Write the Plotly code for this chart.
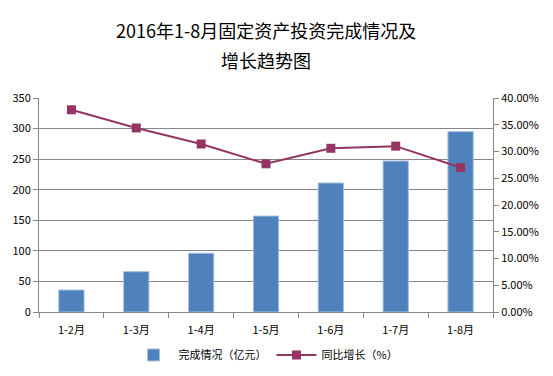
import plotly.graph_objects as go

categories = ["1-2月", "1-3月", "1-4月", "1-5月", "1-6月", "1-7月", "1-8月"]
investment = [36, 66, 96, 157, 211, 247, 295]
growth = [0.378, 0.344, 0.314, 0.277, 0.306, 0.310, 0.270]
y1_ticks = [0, 50, 100, 150, 200, 250, 300, 350]
y2_ticks = [0.0, 0.05, 0.10, 0.15, 0.20, 0.25, 0.30, 0.35, 0.40]
title_lines = ["2016年1-8月固定资产投资完成情况及", "增长趋势图"]

FONT = "Noto Sans CJK SC, SimSun, sans-serif"

fig = go.Figure()
fig.add_trace(go.Bar(
    x=categories, y=investment, name="完成情况（亿元）",
    marker=dict(color="#4F81BD", line=dict(color="#A7C0DE", width=1)),
    yaxis="y",
))
fig.add_trace(go.Scatter(
    x=categories, y=growth, name="同比增长（%）", mode="lines+markers",
    line=dict(color="#953563", width=2),
    marker=dict(symbol="square", size=9, color="#953563"),
    yaxis="y2",
))

fig.add_annotation(text=title_lines[0], xref="paper", yref="paper", x=0.5, xanchor="center",
                   y=1.250, yanchor="bottom", showarrow=False, borderpad=0,
                   font=dict(family=FONT, size=18, color="black"))
fig.add_annotation(text=title_lines[1], xref="paper", yref="paper", x=0.5, xanchor="center",
                   y=1.245, yanchor="top", showarrow=False, borderpad=0,
                   font=dict(family=FONT, size=18, color="black"))

fig.update_layout(
    width=553, height=376,
    margin=dict(l=39, r=60, t=98, b=64, autoexpand=False),
    paper_bgcolor="white", plot_bgcolor="white",
    font=dict(family=FONT, size=11, color="black"),
    bargap=0.61,
    showlegend=True,
    legend=dict(orientation="h", x=0.5, xanchor="center",
                yref="container", y=0.056, yanchor="middle",
                font=dict(size=11), traceorder="normal", itemwidth=40),
    xaxis=dict(showline=True, linecolor="#868686", linewidth=1, automargin=False,
               ticks="outside", tickson="boundaries", ticklen=5, tickcolor="#868686",
               ticklabelstandoff=8, showgrid=False),
    yaxis=dict(range=[0, 350], tickvals=y1_ticks, showline=True, linecolor="#868686",
               automargin=False,
               ticks="outside", ticklen=5, tickcolor="#868686",
               showgrid=True, gridcolor="#868686", gridwidth=1, zeroline=False),
    yaxis2=dict(range=[0, 0.4], tickvals=y2_ticks, tickformat=".2%", overlaying="y",
                side="right", showline=True, linecolor="#868686", automargin=False,
                ticks="outside", ticklen=5, tickcolor="#868686",
                showgrid=False, zeroline=False),
)

fig.write_html("out.html", config={"displayModeBar": False},
               post_script="document.body.style.margin='0';")
